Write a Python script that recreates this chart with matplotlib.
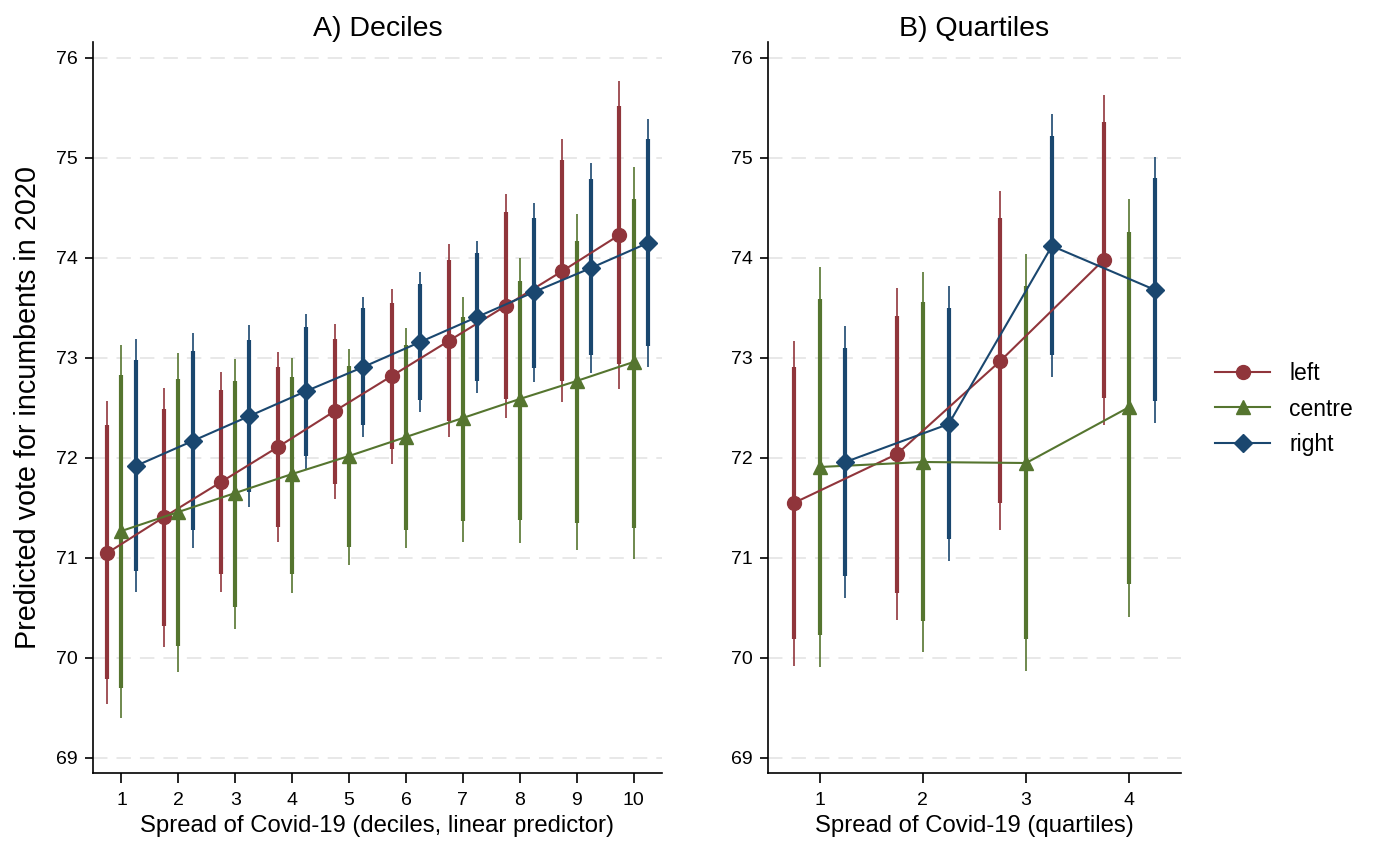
import matplotlib
matplotlib.use("Agg")
import matplotlib.pyplot as plt
import numpy as np

plt.rcParams['font.family'] = ['Liberation Sans', 'DejaVu Sans']

# ---------------- Data ----------------
groups = ["left", "centre", "right"]
offsets = [-0.25, 0.0, 0.25]
colors = ["#90353B", "#55752F", "#1A476F"]
markers = ["o", "^", "D"]

# Panel A: deciles
dec_x = [1, 2, 3, 4, 5, 6, 7, 8, 9, 10]
dec_est = {
    "left":   [71.05, 71.41, 71.76, 72.11, 72.47, 72.82, 73.17, 73.52, 73.87, 74.23],
    "centre": [71.27, 71.46, 71.65, 71.84, 72.02, 72.21, 72.40, 72.59, 72.77, 72.96],
    "right":  [71.92, 72.17, 72.42, 72.67, 72.91, 73.16, 73.41, 73.66, 73.90, 74.15],
}
dec_lo90 = {
    "left":   [69.79, 70.32, 70.84, 71.31, 71.74, 72.09, 72.37, 72.59, 72.77, 72.94],
    "centre": [69.70, 70.12, 70.51, 70.84, 71.11, 71.28, 71.37, 71.38, 71.35, 71.30],
    "right":  [70.87, 71.28, 71.66, 72.02, 72.33, 72.58, 72.77, 72.90, 73.03, 73.12],
}
dec_hi90 = {
    "left":   [72.33, 72.49, 72.68, 72.91, 73.19, 73.55, 73.98, 74.46, 74.98, 75.52],
    "centre": [72.83, 72.79, 72.77, 72.81, 72.92, 73.13, 73.41, 73.77, 74.17, 74.59],
    "right":  [72.98, 73.07, 73.18, 73.31, 73.50, 73.74, 74.05, 74.40, 74.79, 75.19],
}
dec_lo95 = {
    "left":   [69.54, 70.11, 70.66, 71.16, 71.59, 71.94, 72.21, 72.40, 72.56, 72.69],
    "centre": [69.40, 69.86, 70.29, 70.65, 70.93, 71.10, 71.16, 71.15, 71.08, 70.99],
    "right":  [70.66, 71.10, 71.51, 71.89, 72.21, 72.46, 72.65, 72.76, 72.85, 72.91],
}
dec_hi95 = {
    "left":   [72.57, 72.70, 72.86, 73.06, 73.34, 73.69, 74.14, 74.64, 75.19, 75.77],
    "centre": [73.13, 73.05, 72.99, 73.00, 73.09, 73.30, 73.61, 74.00, 74.44, 74.91],
    "right":  [73.19, 73.25, 73.33, 73.44, 73.61, 73.86, 74.17, 74.55, 74.95, 75.39],
}

# Panel B: quartiles
qrt_x = [1, 2, 3, 4]
qrt_est = {
    "left":   [71.55, 72.04, 72.97, 73.98],
    "centre": [71.91, 71.96, 71.95, 72.51],
    "right":  [71.96, 72.34, 74.12, 73.68],
}
qrt_lo90 = {
    "left":   [70.19, 70.65, 71.55, 72.60],
    "centre": [70.23, 70.37, 70.19, 70.74],
    "right":  [70.82, 71.19, 73.03, 72.57],
}
qrt_hi90 = {
    "left":   [72.91, 73.42, 74.40, 75.36],
    "centre": [73.59, 73.56, 73.72, 74.26],
    "right":  [73.10, 73.50, 75.22, 74.80],
}
qrt_lo95 = {
    "left":   [69.92, 70.38, 71.28, 72.33],
    "centre": [69.91, 70.06, 69.87, 70.41],
    "right":  [70.60, 70.97, 72.81, 72.35],
}
qrt_hi95 = {
    "left":   [73.17, 73.70, 74.67, 75.63],
    "centre": [73.91, 73.86, 74.04, 74.59],
    "right":  [73.32, 73.72, 75.44, 75.01],
}

yticks = [69, 70, 71, 72, 73, 74, 75, 76]

# ---------------- Figure ----------------
fig = plt.figure(figsize=(13.76, 8.43), dpi=100)
axA = fig.add_axes([93/1376, 1-773/843, (662-93)/1376, (773-42)/843])
axB = fig.add_axes([768/1376, 1-773/843, (1181-768)/1376, (773-42)/843])

msizes = {"o": 10, "^": 10.5, "D": 9.5}

def draw(ax, xs, est, lo90, hi90, lo95, hi95, xlim, title, xlabel):
    for y in yticks:
        ax.axhline(y, color="#E6E6E6", lw=1.3, ls=(0, (8, 5)), zorder=0.5)
    handles = []
    for g, off, c in zip(groups, offsets, colors):
        xp = np.array(xs) + off
        ax.vlines(xp, lo95[g], hi95[g], color=c, lw=1.4, alpha=0.85, zorder=2)
        ax.vlines(xp, lo90[g], hi90[g], color=c, lw=3.0, zorder=2.1)
    for g, off, c, m in zip(groups, offsets, colors, markers):
        xp = np.array(xs) + off
        h, = ax.plot(xp, est[g], color=c, lw=1.5, marker=m, ms=msizes[m],
                     mfc=c, mec=c, zorder=3, label=g)
        handles.append(h)
    ax.set_xlim(*xlim)
    ax.set_ylim(68.85, 76.16)
    ax.set_yticks(yticks)
    ax.set_xticks(xs)
    ax.tick_params(axis="y", direction="out", length=6, width=1.2,
                   labelsize=14, colors="black", pad=5)
    ax.tick_params(axis="x", direction="out", length=7, width=1.2,
                   labelsize=14, colors="black", pad=7)
    for s in ["top", "right"]:
        ax.spines[s].set_visible(False)
    for s in ["left", "bottom"]:
        ax.spines[s].set_linewidth(1.2)
    ax.set_title(title, fontsize=20.5, pad=4)
    ax.set_xlabel(xlabel, fontsize=17.2, labelpad=4)
    return handles

draw(axA, dec_x, dec_est, dec_lo90, dec_hi90, dec_lo95, dec_hi95,
     (0.5, 10.5), "A) Deciles", "Spread of Covid-19 (deciles, linear predictor)")
handles = draw(axB, qrt_x, qrt_est, qrt_lo90, qrt_hi90, qrt_lo95, qrt_hi95,
               (0.5, 4.5), "B) Quartiles", "Spread of Covid-19 (quartiles)")
axA.set_ylabel("Predicted vote for incumbents in 2020", fontsize=20.7, labelpad=10)

fig.legend(handles=handles, labels=groups, loc="center left",
           bbox_to_anchor=(1215/1376, 1-409/843), frameon=False,
           fontsize=16.5, handlelength=2.4, handletextpad=0.85,
           labelspacing=0.55, borderpad=0, borderaxespad=0)

fig.savefig("out.png", dpi=100, facecolor="white")
